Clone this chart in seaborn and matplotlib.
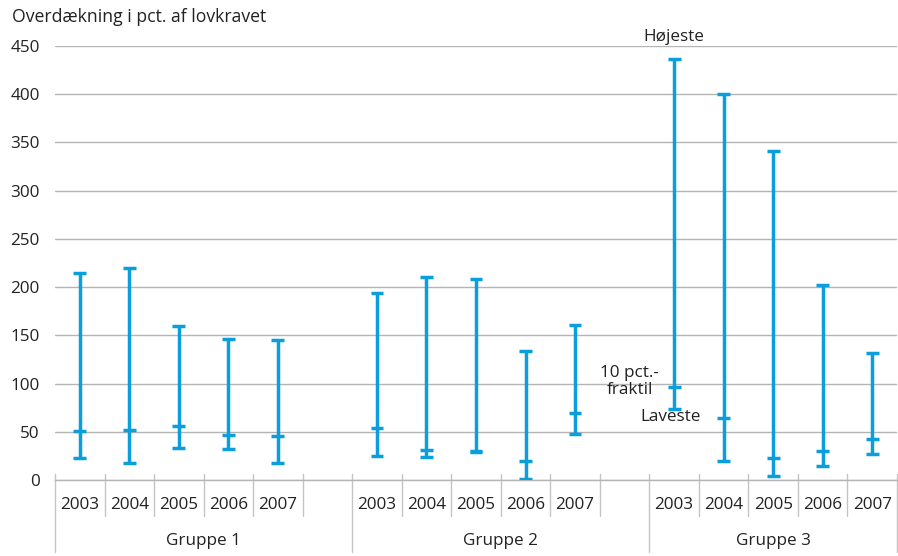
import matplotlib
matplotlib.use("Agg")
import matplotlib.pyplot as plt
import seaborn as sns
import pandas as pd

# data
groups = ["Gruppe 1", "Gruppe 2", "Gruppe 3"]
years = ["2003", "2004", "2005", "2006", "2007"]
hoejeste = [215, 220, 160, 146, 145,
            194, 211, 208, 134, 161,
            437, 400, 341, 202, 132]
fraktil = [51, 52, 56, 47, 46,
           54, 31, 30, 20, 69,
           96, 64, 23, 30, 42]
laveste = [23, 18, 33, 32, 18,
           25, 24, 29, 1, 48,
           74, 20, 4, 14, 27]

# slot layout: 5 years per group, an empty slot between groups
slots = []
for g in range(len(groups)):
    for y in range(len(years)):
        slots.append(g * 6 + y + 0.5)

df = pd.DataFrame({
    "x": slots,
    "gruppe": [g for g in groups for _ in years],
    "aar": years * len(groups),
    "hoej": hoejeste,
    "frak": fraktil,
    "lav": laveste,
})

sns.set_style("white")
plt.rcParams["font.family"] = ["Open Sans", "DejaVu Sans"]

blue = "#0a9fdc"
grid = "#b4b4b4"
sep = "#c4c4c4"
txt = "#222222"
fs = 12.3

fig = plt.figure(figsize=(8.98, 5.56), dpi=100)
ax = fig.add_axes([55 / 898, 1 - 480 / 556, 842 / 898, 434 / 556])

ax.set_xlim(0, 17)
ax.set_ylim(0, 450)
ax.set_yticks(range(0, 451, 50))
ax.yaxis.grid(True, color=grid, linewidth=1)
ax.set_axisbelow(True)
ax.tick_params(axis="y", length=0, pad=11, labelsize=fs, labelcolor=txt)
ax.set_xticks([])
sns.despine(ax=ax, left=True, top=True, right=True)
ax.spines["bottom"].set_color(grid)
ax.spines["bottom"].set_linewidth(1)

hw = 0.13
lw = 2.5
ax.vlines(df["x"], df["lav"], df["hoej"], color=blue, linewidth=lw, zorder=3)
for col in ["hoej", "frak", "lav"]:
    ax.hlines(df[col], df["x"] - hw, df["x"] + hw, color=blue, linewidth=lw, zorder=3)

# category axis: year separators and group separators
tr = ax.get_xaxis_transform()
up = 6 / 434
short = -36 / 434
long_ = -72 / 434
for b in range(18):
    if b in (0, 6, 12, 17):
        ax.plot([b, b], [up, long_], transform=tr, color=sep, lw=1, clip_on=False)
    else:
        ax.plot([b, b], [up, short], transform=tr, color=sep, lw=1, clip_on=False)

for x, a in zip(df["x"], df["aar"]):
    ax.text(x, -25 / 434, a, transform=tr, ha="center", va="center",
            fontsize=fs, color=txt)
for g, name in enumerate(groups):
    ax.text(g * 6 + (3 if g < 2 else 2.5), -61 / 434, name, transform=tr,
            ha="center", va="center", fontsize=fs, color=txt)

fig.text(12 / 898, 1 - 17 / 556, "Overdækning i pct. af lovkravet",
         ha="left", va="center", fontsize=fs + 0.4, color=txt)

# explanatory labels on the first Gruppe 3 bar
ax.text(12.5, 459, "Højeste", ha="center", va="center", fontsize=fs,
        color=txt, clip_on=False)
ax.text(11.6, 102, "10 pct.-\nfraktil", ha="center", va="center",
        fontsize=fs, color=txt, linespacing=1.1)
ax.text(12.42, 65, "Laveste", ha="center", va="center", fontsize=fs,
        color=txt)

fig.savefig("out.png", dpi=100)
